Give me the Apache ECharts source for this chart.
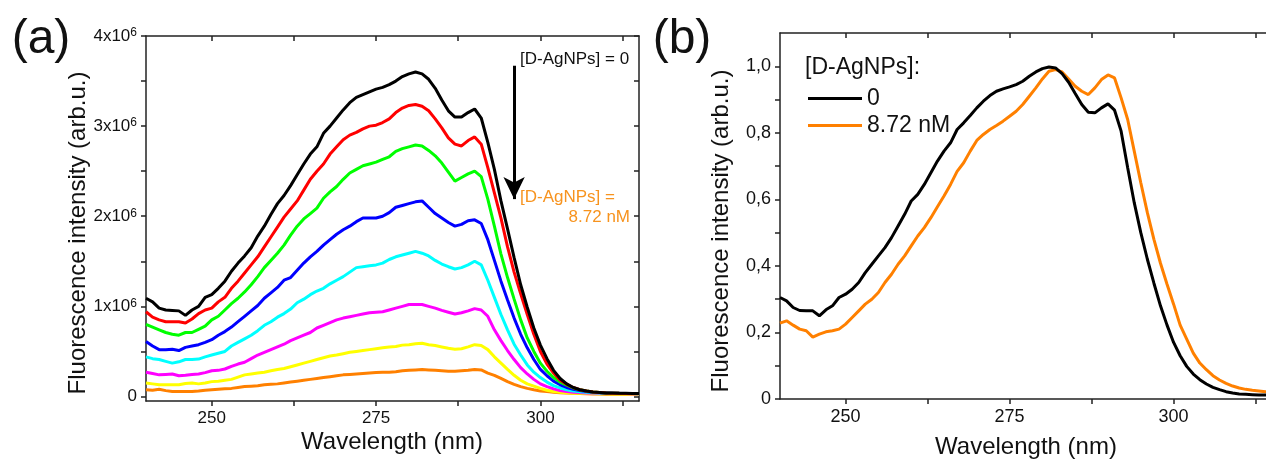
<!DOCTYPE html>
<html>
<head>
<meta charset="utf-8">
<script src="https://cdn.jsdelivr.net/npm/echarts@6/dist/echarts.min.js"></script>
<style>
  html, body { margin: 0; padding: 0; background: #fff; }
  #chart { width: 1266px; height: 466px; }
</style>
</head>
<body>
<div id="chart"></div>
<script>
// ---------- DATA ----------
// Wavelength grid (nm)
const WAVELENGTH = [240,241,242,243,244,245,246,247,248,249,
  250,251,252,253,254,255,256,257,258,259,
  260,261,262,263,264,265,266,267,268,269,
  270,271,272,273,274,275,276,277,278,279,
  280,281,282,283,284,285,286,287,288,289,
  290,291,292,293,294,295,296,297,298,299,
  300,301,302,303,304,305,306,307,308,309,
  310,311,312,313,314,315];

// Panel (a): fluorescence intensity in units of 10^6 (arb.u.)
const A_BLACK = [1.09,1.05,0.98,0.96,0.955,0.95,0.90,0.96,1.00,1.10,
  1.13,1.20,1.28,1.39,1.48,1.56,1.65,1.78,1.89,2.02,
  2.14,2.23,2.34,2.46,2.58,2.69,2.77,2.92,3.00,3.09,
  3.18,3.26,3.32,3.35,3.38,3.41,3.43,3.46,3.50,3.55,
  3.58,3.60,3.58,3.52,3.42,3.29,3.17,3.10,3.10,3.15,
  3.19,3.09,2.82,2.52,2.17,1.86,1.54,1.24,0.99,0.76,
  0.57,0.42,0.29,0.20,0.14,0.10,0.075,0.06,0.05,0.045,
  0.04,0.038,0.036,0.035,0.034,0.033];
const A_RED = [0.94,0.88,0.85,0.83,0.83,0.83,0.815,0.86,0.92,0.96,
  0.98,1.05,1.10,1.20,1.28,1.37,1.46,1.55,1.66,1.77,
  1.88,1.99,2.08,2.17,2.29,2.41,2.50,2.58,2.69,2.77,
  2.85,2.90,2.93,2.97,3.00,3.01,3.04,3.08,3.15,3.20,
  3.23,3.24,3.22,3.17,3.08,2.98,2.87,2.80,2.78,2.84,
  2.88,2.80,2.54,2.26,1.98,1.66,1.38,1.14,0.91,0.69,
  0.50,0.36,0.26,0.18,0.135,0.10,0.075,0.06,0.05,0.044,
  0.04,0.037,0.035,0.034,0.033,0.032];
const A_GREEN = [0.80,0.77,0.74,0.71,0.69,0.68,0.71,0.71,0.745,0.78,
  0.85,0.89,0.96,1.03,1.09,1.16,1.24,1.33,1.43,1.51,
  1.59,1.68,1.79,1.89,1.97,2.03,2.09,2.20,2.27,2.33,
  2.41,2.48,2.52,2.56,2.58,2.60,2.63,2.66,2.72,2.75,
  2.77,2.79,2.78,2.73,2.67,2.59,2.49,2.39,2.43,2.47,
  2.50,2.44,2.19,1.89,1.58,1.32,1.08,0.85,0.65,0.50,
  0.37,0.28,0.21,0.16,0.125,0.095,0.075,0.06,0.05,0.044,
  0.04,0.037,0.035,0.034,0.033,0.032];
const A_BLUE = [0.61,0.56,0.52,0.52,0.525,0.51,0.545,0.56,0.575,0.60,
  0.63,0.68,0.72,0.77,0.83,0.89,0.95,1.01,1.09,1.15,
  1.21,1.29,1.32,1.40,1.48,1.55,1.61,1.68,1.74,1.80,
  1.85,1.89,1.94,1.98,1.98,1.98,2.00,2.04,2.10,2.12,
  2.14,2.16,2.17,2.10,2.03,1.98,1.93,1.89,1.91,1.95,
  1.96,1.92,1.74,1.51,1.28,1.07,0.87,0.69,0.54,0.41,
  0.30,0.23,0.17,0.13,0.10,0.08,0.065,0.055,0.048,0.043,
  0.04,0.037,0.035,0.034,0.033,0.032];
const A_CYAN = [0.44,0.42,0.41,0.39,0.37,0.385,0.41,0.41,0.415,0.44,
  0.46,0.48,0.50,0.56,0.60,0.64,0.68,0.73,0.79,0.83,
  0.88,0.92,0.97,1.04,1.08,1.13,1.17,1.20,1.25,1.29,
  1.33,1.38,1.43,1.44,1.45,1.46,1.48,1.52,1.55,1.57,
  1.59,1.61,1.59,1.56,1.51,1.47,1.44,1.415,1.43,1.46,
  1.50,1.46,1.29,1.10,0.91,0.74,0.58,0.46,0.35,0.27,
  0.21,0.16,0.12,0.095,0.075,0.06,0.052,0.046,0.042,0.039,
  0.037,0.035,0.034,0.033,0.032,0.031];
const A_MAGENTA = [0.27,0.255,0.24,0.245,0.25,0.23,0.235,0.245,0.25,0.265,
  0.285,0.29,0.305,0.335,0.36,0.38,0.42,0.46,0.49,0.52,
  0.55,0.58,0.62,0.65,0.68,0.71,0.76,0.79,0.82,0.85,
  0.87,0.885,0.90,0.915,0.93,0.935,0.94,0.96,0.98,1.00,
  1.02,1.02,1.02,1.00,0.98,0.955,0.935,0.915,0.93,0.95,
  0.975,0.96,0.89,0.74,0.62,0.51,0.41,0.32,0.25,0.19,
  0.14,0.11,0.085,0.065,0.055,0.048,0.043,0.04,0.038,0.036,
  0.035,0.034,0.033,0.032,0.031,0.03];
const A_YELLOW = [0.15,0.14,0.13,0.13,0.13,0.13,0.145,0.15,0.14,0.15,
  0.165,0.17,0.18,0.19,0.215,0.24,0.25,0.26,0.27,0.285,
  0.30,0.31,0.33,0.35,0.37,0.39,0.41,0.43,0.45,0.46,
  0.475,0.49,0.50,0.51,0.52,0.53,0.54,0.55,0.555,0.57,
  0.575,0.585,0.59,0.575,0.565,0.55,0.535,0.525,0.53,0.55,
  0.575,0.565,0.52,0.44,0.37,0.30,0.235,0.18,0.14,0.115,
  0.09,0.07,0.055,0.047,0.041,0.037,0.035,0.033,0.032,0.031,
  0.03,0.029,0.028,0.028,0.027,0.027];
const A_ORANGE = [0.075,0.07,0.08,0.065,0.056,0.056,0.055,0.056,0.06,0.07,
  0.075,0.08,0.085,0.09,0.10,0.11,0.115,0.12,0.13,0.135,
  0.14,0.15,0.16,0.17,0.18,0.19,0.20,0.21,0.22,0.23,
  0.24,0.245,0.25,0.255,0.26,0.265,0.27,0.27,0.275,0.285,
  0.29,0.295,0.30,0.295,0.29,0.285,0.28,0.28,0.285,0.29,
  0.30,0.295,0.26,0.235,0.20,0.165,0.135,0.11,0.09,0.075,
  0.062,0.055,0.048,0.042,0.038,0.035,0.032,0.03,0.028,0.027,
  0.026,0.025,0.025,0.024,0.024,0.023];

// Panel (b): normalized fluorescence intensity
const B_ZERO = [0.305,0.295,0.275,0.266,0.265,0.265,0.25,0.268,0.28,0.305,
  0.315,0.33,0.35,0.38,0.405,0.43,0.455,0.485,0.52,0.555,
  0.595,0.615,0.645,0.68,0.715,0.745,0.77,0.81,0.83,0.852,
  0.875,0.895,0.912,0.925,0.932,0.938,0.945,0.955,0.97,0.983,
  0.993,0.998,0.995,0.978,0.952,0.918,0.885,0.862,0.86,0.875,
  0.887,0.868,0.805,0.695,0.59,0.50,0.42,0.348,0.28,0.222,
  0.17,0.13,0.098,0.075,0.058,0.045,0.035,0.028,0.022,0.018,
  0.015,0.014,0.013,0.012,0.012,0.011];
const B_872 = [0.228,0.235,0.222,0.21,0.205,0.186,0.195,0.202,0.205,0.21,
  0.225,0.245,0.265,0.285,0.30,0.32,0.35,0.375,0.405,0.43,
  0.46,0.49,0.515,0.545,0.578,0.61,0.645,0.684,0.71,0.745,
  0.777,0.795,0.81,0.822,0.835,0.85,0.865,0.885,0.91,0.935,
  0.962,0.985,0.99,0.983,0.962,0.94,0.925,0.915,0.935,0.96,
  0.974,0.965,0.905,0.84,0.745,0.65,0.56,0.48,0.408,0.345,
  0.285,0.222,0.18,0.138,0.108,0.088,0.07,0.057,0.047,0.039,
  0.033,0.029,0.026,0.024,0.022,0.021];

// Tick values / labels
const X_TICKS = [250, 262.5, 275, 287.5, 300, 312.5];
const X_LABELS = [250, 275, 300];
const A_Y_TICKS = [0, 0.5, 1, 1.5, 2, 2.5, 3, 3.5, 4];
const A_Y_LABELS = [0, 1, 2, 3, 4];
const B_Y_TICKS = [0, 0.1, 0.2, 0.3, 0.4, 0.5, 0.6, 0.7, 0.8, 0.9, 1.0];
const B_Y_LABELS = [0, 0.2, 0.4, 0.6, 0.8, 1.0];

// Arrow annotation in panel (a) (data coordinates)
const ARROW_WL = 296.0, ARROW_FROM = 3.67, ARROW_TO = 2.19;

// ---------- CHART ----------
const FONT = '"Liberation Sans", Arial, sans-serif';
const AXIS_COLOR = '#222';
const ORANGE = '#FF8000';
const ORANGE_TEXT = '#F7931E';

const pairs = arr => WAVELENGTH.map((w, i) => [w, arr[i]]);

function xAxes(gridIndex) {
  const common = {
    gridIndex, type: 'value', min: 240, max: 315,
    axisLine: { show: true, onZero: false, lineStyle: { color: AXIS_COLOR, width: 1.5 } },
    splitLine: { show: false }
  };
  return [
    Object.assign({}, common, {
      position: 'bottom',
      axisTick: { show: true, inside: false, length: 5, customValues: X_TICKS, lineStyle: { color: AXIS_COLOR, width: 1.5 } },
      axisLabel: { show: true, customValues: X_LABELS, margin: 9, fontSize: gridIndex === 0 ? 17 : 18, fontFamily: FONT, color: '#111' }
    }),
    Object.assign({}, common, {
      position: 'top',
      axisTick: { show: true, inside: true, length: 5, customValues: X_TICKS, lineStyle: { color: AXIS_COLOR, width: 1.5 } },
      axisLabel: { show: false }
    })
  ];
}

function yAxes(gridIndex, min, max, ticks, labels, formatter, rich, fontSize) {
  const common = {
    gridIndex, type: 'value', min, max,
    axisLine: { show: true, onZero: false, lineStyle: { color: AXIS_COLOR, width: 1.5 } },
    splitLine: { show: false }
  };
  return [
    Object.assign({}, common, {
      position: 'left',
      axisTick: { show: true, inside: false, length: 5, customValues: ticks, lineStyle: { color: AXIS_COLOR, width: 1.5 } },
      axisLabel: { show: true, customValues: labels, margin: 9, fontSize, fontFamily: FONT, color: '#111', formatter, rich }
    }),
    Object.assign({}, common, {
      position: 'right',
      axisTick: { show: true, inside: true, length: 5, customValues: ticks, lineStyle: { color: AXIS_COLOR, width: 1.5 } },
      axisLabel: { show: false }
    })
  ];
}

const aRich = {
  m: { fontSize: 17, fontFamily: FONT, color: '#111', lineHeight: 18 },
  s: { fontSize: 12, fontFamily: FONT, color: '#111', verticalAlign: 'top', lineHeight: 12 }
};
const aFormatter = v => v === 0 ? '{m|0}' : '{m|' + v + 'x10}{s|6}';
const bFormatter = v => v === 0 ? '0' : v.toFixed(1).replace('.', ',');

const aCurves = [
  ['(a) 8.72 nM', A_ORANGE, ORANGE],
  ['(a) step 7', A_YELLOW, '#FFFF00'],
  ['(a) step 6', A_MAGENTA, '#FF00FF'],
  ['(a) step 5', A_CYAN, '#00FFFF'],
  ['(a) step 4', A_BLUE, '#0000FF'],
  ['(a) step 3', A_GREEN, '#00FF00'],
  ['(a) step 2', A_RED, '#FF0000'],
  ['(a) 0', A_BLACK, '#000000']
];

const series = aCurves.map(([name, arr, color]) => ({
  name, type: 'line', xAxisIndex: 0, yAxisIndex: 0,
  data: pairs(arr), showSymbol: false, symbol: 'none', silent: true,
  lineStyle: { color, width: 3 }, itemStyle: { color }, z: 3
}));
series[series.length - 1].markLine = {
  silent: true,
  symbol: ['none', 'arrow'],
  symbolSize: [16, 22],
  label: { show: false },
  lineStyle: { color: '#000', width: 3, type: 'solid' },
  data: [[{ coord: [ARROW_WL, ARROW_FROM] }, { coord: [ARROW_WL, ARROW_TO] }]]
};
series.push({
  name: '0', type: 'line', xAxisIndex: 2, yAxisIndex: 2,
  data: pairs(B_ZERO), showSymbol: false, symbol: 'none', silent: true,
  lineStyle: { color: '#000', width: 3 }, itemStyle: { color: '#000' }, z: 4
});
series.push({
  name: '8.72 nM', type: 'line', xAxisIndex: 2, yAxisIndex: 2,
  data: pairs(B_872), showSymbol: false, symbol: 'none', silent: true,
  lineStyle: { color: ORANGE, width: 3 }, itemStyle: { color: ORANGE }, z: 3
});

const option = {
  animation: false,
  backgroundColor: '#fff',
  grid: [
    { left: 146, top: 36, width: 493, height: 365, containLabel: false, outerBoundsMode: 'none' },
    { left: 780, top: 33, width: 492, height: 366, containLabel: false, outerBoundsMode: 'none' }
  ],
  xAxis: [].concat(xAxes(0), xAxes(1)),
  yAxis: [].concat(
    yAxes(0, -0.05, 4, A_Y_TICKS, A_Y_LABELS, aFormatter, aRich, 17),
    yAxes(1, 0, 1.1, B_Y_TICKS, B_Y_LABELS, bFormatter, undefined, 18)
  ),
  legend: {
    data: ['0', '8.72 nM'],
    orient: 'vertical',
    left: 803, top: 80,
    icon: 'rect',
    itemWidth: 54, itemHeight: 3, itemGap: 0,
    selectedMode: false,
    textStyle: { fontSize: 23, fontFamily: FONT, color: '#111', lineHeight: 27 }
  },
  graphic: [
    { type: 'text', x: 41, y: 40, style: { text: '(a)', font: '48px ' + FONT, fill: '#111', textAlign: 'center', textVerticalAlign: 'middle', align: 'center', verticalAlign: 'middle' } },
    { type: 'text', x: 682, y: 40, style: { text: '(b)', font: '48px ' + FONT, fill: '#111', textAlign: 'center', textVerticalAlign: 'middle', align: 'center', verticalAlign: 'middle' } },
    { type: 'text', x: 78, y: 233, rotation: Math.PI / 2, style: { text: 'Fluorescence intensity (arb.u.)', font: '24px ' + FONT, fill: '#111', textAlign: 'center', textVerticalAlign: 'middle', align: 'center', verticalAlign: 'middle' } },
    { type: 'text', x: 721, y: 231, rotation: Math.PI / 2, style: { text: 'Fluorescence intensity (arb.u.)', font: '24px ' + FONT, fill: '#111', textAlign: 'center', textVerticalAlign: 'middle', align: 'center', verticalAlign: 'middle' } },
    { type: 'text', x: 392, y: 442, style: { text: 'Wavelength (nm)', font: '24px ' + FONT, fill: '#111', textAlign: 'center', textVerticalAlign: 'middle', align: 'center', verticalAlign: 'middle' } },
    { type: 'text', x: 1026, y: 447, style: { text: 'Wavelength (nm)', font: '24px ' + FONT, fill: '#111', textAlign: 'center', textVerticalAlign: 'middle', align: 'center', verticalAlign: 'middle' } },
    { type: 'text', x: 520, y: 59, style: { text: '[D-AgNPs] = 0', font: '17px ' + FONT, fill: '#111', textAlign: 'left', textVerticalAlign: 'middle', align: 'left', verticalAlign: 'middle' } },
    { type: 'text', x: 520, y: 197, style: { text: '[D-AgNPs] =', font: '17px ' + FONT, fill: ORANGE_TEXT, textAlign: 'left', textVerticalAlign: 'middle', align: 'left', verticalAlign: 'middle' } },
    { type: 'text', x: 630, y: 217, style: { text: '8.72 nM', font: '17px ' + FONT, fill: ORANGE_TEXT, textAlign: 'right', textVerticalAlign: 'middle', align: 'right', verticalAlign: 'middle' } },
    { type: 'text', x: 805, y: 68, style: { text: '[D-AgNPs]:', font: '23px ' + FONT, fill: '#111', textAlign: 'left', textVerticalAlign: 'middle', align: 'left', verticalAlign: 'middle' } }
  ],
  series
};

const chart = echarts.init(document.getElementById('chart'), null, { renderer: 'canvas' });
chart.setOption(option);
</script>
</body>
</html>
